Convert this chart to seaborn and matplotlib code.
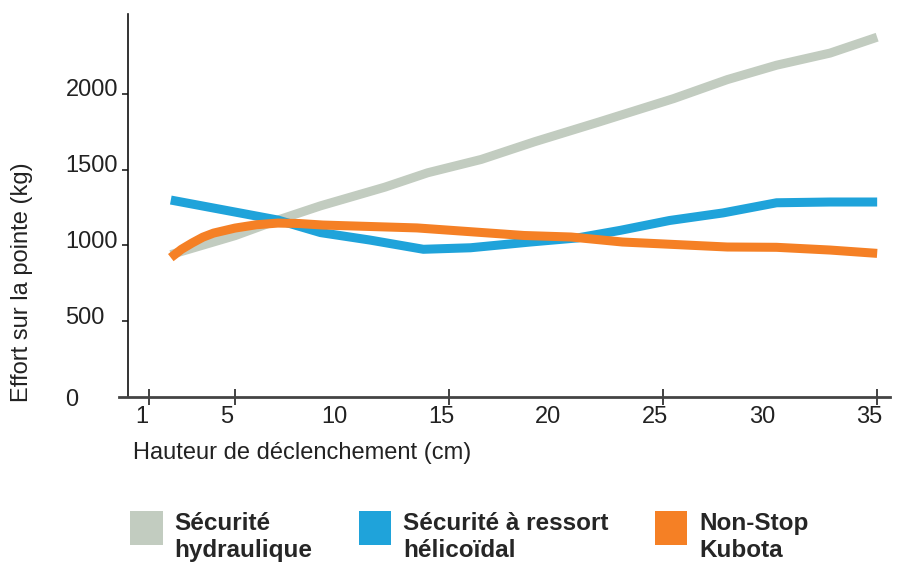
import matplotlib
matplotlib.use("Agg")
import matplotlib.pyplot as plt
from matplotlib.patches import Patch
from matplotlib.transforms import ScaledTranslation
import seaborn as sns
import pandas as pd

# valeurs
hydr_x = [2, 5, 7, 9, 12, 14, 16.5, 19, 22, 25.5, 28, 30.3, 32.8, 35]
hydr_y = [940, 1065, 1168, 1262, 1385, 1480, 1568, 1685, 1815, 1970, 2095, 2190, 2270, 2375]

ressort_x = [2, 4.5, 7, 9, 11.3, 13.8, 16, 18.8, 21, 23, 25.3, 27.8, 30.3, 32.8, 35]
ressort_y = [1300, 1234, 1168, 1085, 1036, 975, 985, 1023, 1050, 1100, 1165, 1215, 1282, 1287, 1287]

kubota_x = [2, 2.5, 3, 3.5, 4, 5, 6, 7, 8, 9.1, 13.5, 18.5, 20.7, 23.1, 28, 30.3, 32.8, 35]
kubota_y = [920, 975, 1017, 1055, 1082, 1115, 1137, 1148, 1145, 1135, 1116, 1066, 1056, 1023, 990, 988, 970, 948]

series = ["Sécurité\nhydraulique", "Sécurité à ressort\nhélicoïdal", "Non-Stop\nKubota"]
colors = ["#C2CCC0", "#1FA3DA", "#F58025"]

x_ticks = [1, 5, 10, 15, 20, 25, 30, 35]
y_ticks = [0, 500, 1000, 1500, 2000]

df = pd.concat([
    pd.DataFrame({"x": hydr_x, "y": hydr_y, "serie": series[0]}),
    pd.DataFrame({"x": ressort_x, "y": ressort_y, "serie": series[1]}),
    pd.DataFrame({"x": kubota_x, "y": kubota_y, "serie": series[2]}),
])

sns.set_style("white")
plt.rcParams["font.family"] = ["Liberation Sans", "DejaVu Sans"]

fig = plt.figure(figsize=(9.01, 5.62), dpi=100)
ax = fig.add_axes([128 / 901, 1 - 397 / 562, (890 - 128) / 901, (397 - 14) / 562])

sns.lineplot(data=df, x="x", y="y", hue="serie", palette=dict(zip(series, colors)),
             linewidth=6.5, legend=False, ax=ax, solid_capstyle="butt")

ax.set_xlim(0, 35.6)
ax.set_ylim(0, 2528)

for s in ["top", "right"]:
    ax.spines[s].set_visible(False)
ax.spines["left"].set_color("#111111")
ax.spines["left"].set_linewidth(1.2)
ax.spines["bottom"].set_color("#444444")
ax.spines["bottom"].set_linewidth(2)
ax.spines["bottom"].set_bounds(-0.4, 35.6)

ax.set_xticks(x_ticks)
ax.set_yticks(y_ticks)
ax.tick_params(axis="x", bottom=True, direction="inout", length=11, width=1.2, color="#222222",
               labelsize=17, labelcolor="#222222", pad=1)
ax.tick_params(axis="y", left=True, direction="out", length=4, width=1.2, color="#222222",
               labelsize=17, labelcolor="#222222", pad=41)

# pas de trait pour 10, 20, 30 et pour 0
for t, v in zip(ax.xaxis.get_major_ticks(), x_ticks):
    if v in (10, 20, 30):
        t.tick1line.set_visible(False)
ax.yaxis.get_major_ticks()[0].tick1line.set_visible(False)

for lab in ax.get_xticklabels():
    lab.set_transform(lab.get_transform() + ScaledTranslation(-0.08, 0, fig.dpi_scale_trans))
for lab, v in zip(ax.get_yticklabels(), y_ticks):
    lab.set_horizontalalignment("left")
    if v > 0:
        lab.set_transform(lab.get_transform() + ScaledTranslation(0, 0.06, fig.dpi_scale_trans))

ax.set_xlabel("Hauteur de déclenchement (cm)", fontsize=17, color="#222222", loc="left")
ax.xaxis.set_label_coords(0.0066, -0.117)
ax.set_ylabel("Effort sur la pointe (kg)", fontsize=17, color="#222222")
ax.yaxis.set_label_coords(-0.125, 0.30)

handles = [Patch(facecolor=c, edgecolor="none") for c in colors]
leg = fig.legend(handles, series, loc="upper left", bbox_to_anchor=(130 / 901, 1 - 512 / 562),
                 ncol=3, frameon=False, prop={"weight": "bold", "size": 17.5},
                 handlelength=1.34, handleheight=1.78, handletextpad=0.49, columnspacing=1.9,
                 borderpad=0, borderaxespad=0, labelspacing=0)
# carrés alignés sur le haut du texte
for p in leg.get_patches():
    p.set_transform(p.get_data_transform() + ScaledTranslation(0, 0.10, fig.dpi_scale_trans))

fig.savefig("out.png", dpi=100)
